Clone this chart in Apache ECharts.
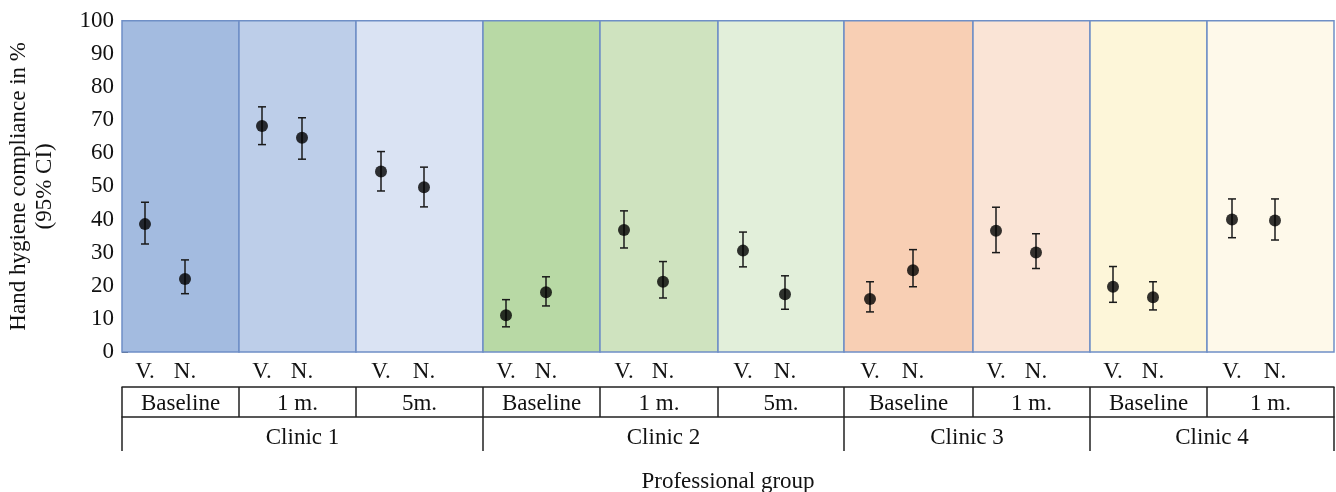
<!DOCTYPE html>
<html><head><meta charset="utf-8">
<script src="https://cdn.jsdelivr.net/npm/echarts@6/dist/echarts.min.js"></script>
<style>html,body{margin:0;padding:0;background:#fff}#c{width:1336px;height:492px}</style>
</head><body><div id="c"></div>
<script>
// ---- data ----
const periods = ['Baseline','1 m.','5m.','Baseline','1 m.','5m.','Baseline','1 m.','Baseline','1 m.'];
const clinics = ['Clinic 1','Clinic 2','Clinic 3','Clinic 4'];
const clinicSpan = [3,3,2,2];
const groups = ['V.','N.'];
const vMean = [38.6,68.2,54.5,11.1,36.8,30.6,16.0,36.6,19.7,40.0];
const vLow  = [32.6,62.6,48.6, 7.6,31.4,25.7,12.1,30.0,15.0,34.5];
const vHigh = [45.2,74.0,60.5,15.8,42.6,36.2,21.2,43.7,25.8,46.2];
const nMean = [22.0,64.7,49.7,18.0,21.2,17.4,24.7,30.0,16.5,39.7];
const nLow  = [17.6,58.2,43.8,13.9,16.3,12.9,19.7,25.2,12.7,33.8];
const nHigh = [27.8,70.7,55.8,22.7,27.3,23.0,30.9,35.7,21.2,46.2];
const yTicks = [0,10,20,30,40,50,60,70,80,90,100];

// ---- layout / style ----
const panelW = [117,117,127,117,118,126,129,117,117,127];
const panelColors = ['#A3BBE0','#BDCEE9','#DAE3F3','#B8D9A5','#CFE3BF','#E2EFDA','#F8CFB4','#FAE4D6','#FDF6D9','#FEF9EA'];
const FONT = 'Liberation Serif';
const FS = 23;
const total = panelW.reduce((a,b)=>a+b,0);
const edges = [0];
panelW.forEach(w => edges.push(edges[edges.length-1]+w));
const vX = panelW.map((w,i)=>Math.round(edges[i]+0.2*w));
const nX = panelW.map((w,i)=>Math.round(edges[i]+0.535*w));

const subLabelMap = {};
vX.forEach(x=>subLabelMap[x]=groups[0]);
nX.forEach(x=>subLabelMap[x]=groups[1]);
const subVals = [].concat(...vX.map((x,i)=>[x,nX[i]]));

const panelCenters = panelW.map((w,i)=>edges[i]+w/2);
const periodMap = {};
panelCenters.forEach((c,i)=>periodMap[c]=periods[i]);

const clinicEdges = [0];
let pi = 0;
clinicSpan.forEach(s=>{pi+=s; clinicEdges.push(edges[pi]);});
const clinicCenters = clinics.map((c,i)=>(clinicEdges[i]+clinicEdges[i+1])/2);
const clinicMap = {};
clinicCenters.forEach((c,i)=>clinicMap[c]=clinics[i]);

const markAreas = panelW.map((w,i)=>[
  {xAxis: edges[i], yAxis: 0, itemStyle:{color: panelColors[i], borderColor:'#6F8FC6', borderWidth:1.5, opacity:1}},
  {xAxis: edges[i+1], yAxis: 100}
]);

const errData = [];
vX.forEach((x,i)=>errData.push([x, vLow[i], vHigh[i]]));
nX.forEach((x,i)=>errData.push([x, nLow[i], nHigh[i]]));
const ptData = [];
vX.forEach((x,i)=>ptData.push([x, vMean[i]]));
nX.forEach((x,i)=>ptData.push([x, nMean[i]]));

const baseX = {type:'value', min:0, max:total, position:'bottom', splitLine:{show:false}};

const option = {
  animation:false,
  textStyle:{fontFamily:FONT},
  grid:{left:122, right:2, top:20.7, bottom:140, containLabel:false, outerBoundsMode:'none'},
  xAxis:[
    Object.assign({}, baseX, {
      axisLine:{show:false}, axisTick:{show:false},
      axisLabel:{customValues: subVals, formatter: v=>subLabelMap[v]||'', fontSize:FS, fontFamily:FONT, color:'#111', margin:8}
    }),
    Object.assign({}, baseX, {
      offset:35,
      axisLine:{show:true, lineStyle:{color:'#222', width:1.5}},
      axisTick:{show:true, customValues: edges, length:30, lineStyle:{color:'#222', width:1.5}},
      axisLabel:{customValues: panelCenters, formatter: v=>periodMap[v]||'', fontSize:FS, fontFamily:FONT, color:'#111', margin:5}
    }),
    Object.assign({}, baseX, {
      offset:65,
      axisLine:{show:true, lineStyle:{color:'#222', width:1.5}},
      axisTick:{show:true, customValues: clinicEdges, length:34, lineStyle:{color:'#222', width:1.5}},
      axisLabel:{customValues: clinicCenters, formatter: v=>clinicMap[v]||'', fontSize:FS, fontFamily:FONT, color:'#111', margin:9},
      name:'Professional group', nameLocation:'middle', nameGap:53,
      nameTextStyle:{fontSize:FS, fontFamily:FONT, color:'#111'}
    })
  ],
  yAxis:{
    type:'value', min:0, max:100, interval:10,
    axisLine:{show:false},
    axisTick:{show:true, inside:true, length:6, lineStyle:{color:'#444', width:1}},
    splitLine:{show:false},
    axisLabel:{fontSize:FS, fontFamily:FONT, color:'#111', margin:8, customValues: yTicks},
    name:'Hand hygiene compliance in %\n(95% CI)', nameLocation:'middle', nameGap:64, nameRotate:90,
    nameTextStyle:{fontSize:FS, fontFamily:FONT, color:'#111', lineHeight:26}
  },
  series:[
    {type:'scatter', xAxisIndex:0, data:[], markArea:{silent:true, data: markAreas}, z:1},
    {type:'custom', xAxisIndex:0, z:5, data: errData,
      renderItem:(params, api)=>{
        const lo = api.coord([api.value(0), api.value(1)]);
        const hi = api.coord([api.value(0), api.value(2)]);
        const cw = 4;
        const st = {stroke:'#1a1a1a', lineWidth:1.5};
        return {type:'group', children:[
          {type:'line', shape:{x1:lo[0], y1:lo[1], x2:hi[0], y2:hi[1]}, style:st},
          {type:'line', shape:{x1:lo[0]-cw, y1:lo[1], x2:lo[0]+cw, y2:lo[1]}, style:st},
          {type:'line', shape:{x1:hi[0]-cw, y1:hi[1], x2:hi[0]+cw, y2:hi[1]}, style:st}
        ]};
      }},
    {type:'scatter', xAxisIndex:0, z:6, data: ptData, symbol:'circle', symbolSize:12, itemStyle:{color:'#000'}}
  ]
};
const chart = echarts.init(document.getElementById('c'), null, {renderer:'canvas'});
chart.setOption(option);
</script></body></html>
